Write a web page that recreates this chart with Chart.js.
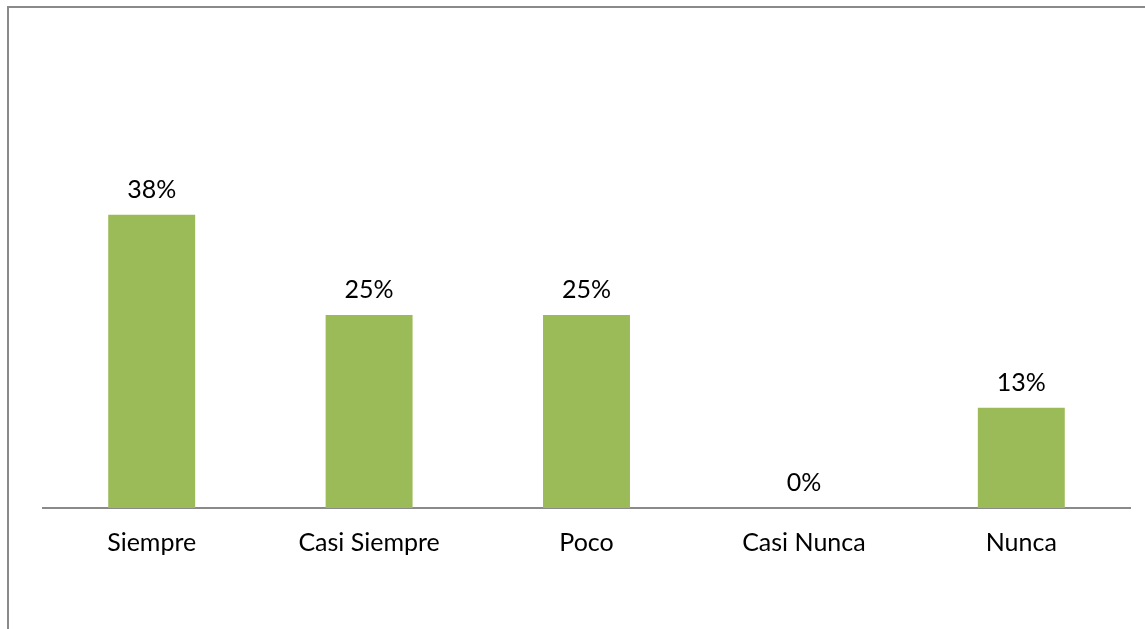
<!DOCTYPE html>
<html>
<head>
<meta charset="utf-8">
<script src="https://cdn.jsdelivr.net/npm/chart.js@4/dist/chart.umd.min.js"></script>
<style>
  html, body { margin: 0; padding: 0; background: #fff; }
  #wrap { position: relative; width: 1145px; height: 629px; overflow: hidden; }
  #frame { position: absolute; left: 7px; top: 6px; right: -10px; bottom: -10px;
           border-left: 2px solid #8a8a8a; border-top: 2px solid #8a8a8a; }
  canvas { position: absolute; left: 0; top: 0; }
</style>
</head>
<body>
<div id="wrap">
  <div id="frame"></div>
  <canvas id="c" width="1145" height="629"></canvas>
</div>
<script>
const categories = ['Siempre', 'Casi Siempre', 'Poco', 'Casi Nunca', 'Nunca'];
const percentValues = [38, 25, 25, 0, 13];
const valueLabels = ['38%', '25%', '25%', '0%', '13%'];

const FONT = 'Lato, "Open Sans", sans-serif';

const barLabels = {
  id: 'barLabels',
  afterDatasetsDraw(chart) {
    const ctx = chart.ctx;
    const meta = chart.getDatasetMeta(0);
    ctx.save();
    ctx.font = '25px ' + FONT;
    ctx.fillStyle = '#000';
    ctx.textAlign = 'center';
    ctx.textBaseline = 'alphabetic';
    meta.data.forEach((bar, i) => {
      ctx.fillText(valueLabels[i], bar.x, bar.y - 17);
    });
    ctx.restore();
  }
};

new Chart(document.getElementById('c'), {
  type: 'bar',
  data: {
    labels: categories,
    datasets: [{
      data: percentValues,
      backgroundColor: '#9BBB59',
      borderWidth: 0,
      barPercentage: 0.4,
      categoryPercentage: 1.0
    }]
  },
  options: {
    responsive: false,
    animation: false,
    layout: { padding: { left: 43, right: 15, top: 122, bottom: 0 } },
    plugins: { legend: { display: false }, tooltip: { enabled: false } },
    scales: {
      y: { display: false, min: 0, max: 50 },
      x: {
        grid: { display: false, drawTicks: false },
        border: { display: true, color: '#8a8a8a', width: 2 },
        ticks: { color: '#000', padding: 20, font: { family: FONT, size: 25 }, maxRotation: 0 },
        afterFit(scale) { scale.height = 121; }
      }
    }
  },
  plugins: [barLabels]
});
</script>
</body>
</html>
